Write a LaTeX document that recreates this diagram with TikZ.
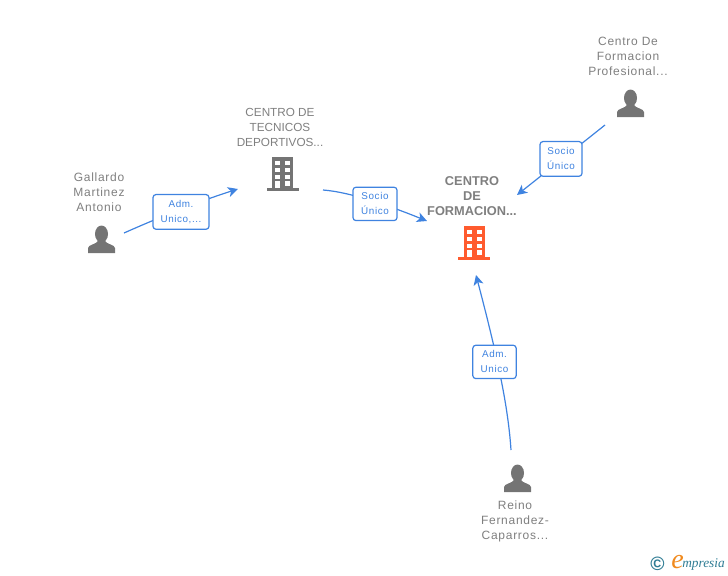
\documentclass[tikz,border=0pt]{standalone}
\usepackage{fontspec}
\setmainfont{Liberation Sans}
\newfontfamily\logofont{Liberation Serif}
\usetikzlibrary{arrows.meta}
\definecolor{txtgray}{HTML}{7F7F7F}
\definecolor{icongray}{HTML}{747474}
\definecolor{iconorange}{HTML}{FF5B2E}
\definecolor{linkblue}{HTML}{3F83E0}
\definecolor{logoteal}{HTML}{2F7C94}
\definecolor{logoorange}{HTML}{F08A1E}
\tikzset{
  x=0.75pt,y=-0.75pt,
  entity/.style={text=txtgray,font=\fontsize{9}{11.25}\selectfont\addfontfeatures{LetterSpace=6},align=center,inner sep=0pt},
  capsentity/.style={text=txtgray,font=\fontsize{8.8}{11.25}\selectfont,align=center,inner sep=0pt},
  mainentity/.style={text=txtgray,font=\fontsize{9.6}{11.25}\selectfont\bfseries,align=center,inner sep=0pt},
  linklabel/.style={draw=linkblue,line width=0.9pt,fill=white,rounded corners=2.2pt,text=linkblue,
    font=\fontsize{7.4}{11.25}\selectfont\addfontfeatures{LetterSpace=6},align=center,inner sep=0pt,anchor=center},
  conn/.style={draw=linkblue,line width=0.9pt,-{Stealth[length=7.5pt,width=7.5pt,inset=2pt]}},
  person/.pic={
    \fill[icongray] (0,-19) ellipse (6.5 and 8.5);
    \fill[icongray] (-13.5,0) -- (-13.5,-5) .. controls (-13.5,-8) and (-5,-9) .. (-3.5,-12)
      -- (3.5,-12) .. controls (5,-9) and (13.5,-8) .. (13.5,-5) -- (13.5,0) -- cycle;
  },
  building/.pic={
    \fill[pic actions] (-10.5,0) rectangle (10.5,-31);
    \fill[pic actions] (-16,0) rectangle (16,2.5);
    \foreach \yy in {-27,-20,-13}{
      \fill[white] (-7.5,\yy) rectangle (-2.5,\yy+4);
      \fill[white] (2.5,\yy) rectangle (7.5,\yy+4);
    }
    \fill[white] (-7.5,-7) rectangle (-2.5,0);
    \fill[white] (2.5,-7) rectangle (7.5,-2.5);
  },
}
\begin{document}
\begin{tikzpicture}
\useasboundingbox (0,0) rectangle (728,575);

% text nodes
\node[entity] (gallardo) at (99,192) {Gallardo\\Martinez\\Antonio};
\node[capsentity] (tecnicos) at (280,127) {CENTRO DE\\TECNICOS\\DEPORTIVOS...};
\node[mainentity] (centro) at (472,196) {CENTRO\\DE\\FORMACION...};
\node[entity] (profesional) at (628,56) {Centro De\\Formacion\\Profesional...};
\node[entity] (reino) at (515,521) {Reino\\Fernandez-\\Caparros...};

% icons
\pic[fill=icongray] (icontecnicos) at (282.5,188) {building};
\pic[fill=iconorange] (iconcentro) at (474,257) {building};
\pic (icongallardo) at (101.5,253) {person};
\pic (iconprofesional) at (630.5,117) {person};
\pic (iconreino) at (517.5,492) {person};

% connector ends
\coordinate (g0) at (124,233);
\coordinate (g1) at (238,189);
\coordinate (t0) at (323,190);
\coordinate (t1) at (427,221);
\coordinate (p0) at (605,125);
\coordinate (p1) at (517,195);
\coordinate (r0) at (511,450);
\coordinate (r1) at (476,275);

% connectors
\draw[conn] (g0) .. controls (160,217) and (200,201) .. (g1);
\draw[conn] (t0) .. controls (350,192) and (390,206) .. (t1);
\draw[conn] (p0) -- (p1);
\draw[conn] (r0) .. controls (508,405) and (497,355) .. (r1);

% connector labels
\node[linklabel,minimum width=42pt,minimum height=26pt,yshift=-0.3pt] (lg) at (181,211.5) {Adm.\\Unico,...};
\node[linklabel,minimum width=33pt,minimum height=25pt,yshift=-0.3pt] (lt) at (375,203.5) {Socio\\Único};
\node[linklabel,minimum width=31.5pt,minimum height=26pt,yshift=-0.3pt] (lp) at (561,158.5) {Socio\\Único};
\node[linklabel,minimum width=32.5pt,minimum height=25pt,yshift=-0.3pt] (lr) at (494.5,361.5) {Adm.\\Unico};

% logo
\node[text=logoteal,font=\fontsize{14.5}{14.5}\selectfont\bfseries,inner sep=0pt] (copyr) at (657.5,564) {©};
\node[text=logoorange,font=\logofont\itshape\fontsize{21}{21}\selectfont,inner sep=0pt] (logoe) at (677.5,562.5) {e};
\node[text=logoteal,font=\logofont\itshape\fontsize{10}{10}\selectfont,inner sep=0pt,anchor=west] (logotext) at (682,564.5) {mpresia};
\end{tikzpicture}
\end{document}
